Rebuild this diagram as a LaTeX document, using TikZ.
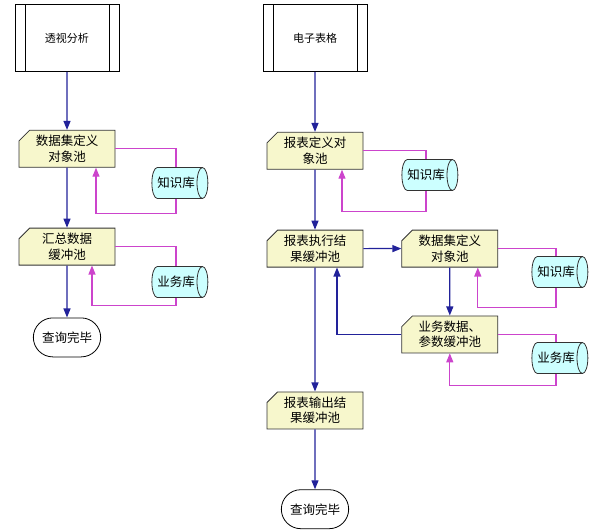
\documentclass[tikz,border=0pt]{standalone}
\usepackage{fontspec}
\setmainfont{Noto Sans CJK SC}
\usepackage{xcolor}
\usetikzlibrary{shapes,arrows.meta,positioning,calc}

\definecolor{poolfill}{HTML}{F7F7CC}
\definecolor{storefill}{HTML}{CCFFFF}
\definecolor{flowblue}{HTML}{22229A}
\definecolor{feedpink}{HTML}{CC44CC}

\begin{document}
\begin{tikzpicture}[x=1pt, y=-1pt, node distance=60pt,
    >={Triangle[width=7pt,length=9pt]},
    font=\fontsize{12.5pt}{15.5pt}\selectfont,
    source/.style={rectangle, draw, line width=0.8pt, minimum width=104pt, minimum height=67pt,
        font=\fontsize{11pt}{13pt}\selectfont,
        path picture={
            \draw[line width=0.8pt] ([xshift=10pt]path picture bounding box.north west) -- ([xshift=10pt]path picture bounding box.south west);
            \draw[line width=0.8pt] ([xshift=-10pt]path picture bounding box.north east) -- ([xshift=-10pt]path picture bounding box.south east);}},
    pool/.style={chamfered rectangle, chamfered rectangle corners=north west,
        chamfered rectangle xsep=7pt, draw=black!80, line width=0.8pt, fill=poolfill,
        minimum width=96pt, minimum height=37pt, align=center, inner sep=1pt},
    store/.style={cylinder, draw=black!80, line width=0.8pt, cylinder uses custom fill,
        cylinder body fill=storefill, cylinder end fill=storefill, shape aspect=0.8,
        minimum width=31pt, minimum height=56pt, inner sep=1pt},
    terminal/.style={rounded rectangle, draw, line width=0.8pt, minimum width=74pt, minimum height=39pt},
    flow/.style={draw=flowblue, line width=1.2pt, ->},
    feed/.style={draw=feedpink, line width=1.1pt},
    feedin/.style={feed, ->}]

    \useasboundingbox (0,0) rectangle (592,530);

    % pivot side
    \node[source] (pivot) at (67,38) {透视分析};
    \node[pool, below=58pt of pivot] (dsl) {数据集定义\\对象池};
    \node[pool, below=of dsl] (sumbuf) {汇总数据\\缓冲池};
    \node[terminal, below=52pt of sumbuf] (donel) {查询完毕};
    \node[store] (knowl) at (176,183) {知识库};
    \node[store] (bizl) at (176,282) {业务库};

    % sheet side
    \node[source] (sheet) at (315,38) {电子表格};
    \node[pool, below=of sheet] (rdef) {报表定义对\\象池};
    \node[pool, below=of rdef] (rexe) {报表执行结\\果缓冲池};
    \node[pool, right=38pt of rexe] (dsr) {数据集定义\\对象池};
    \node[pool, below=48pt of dsr] (param) {业务数据、\\参数缓冲池};
    \node[pool, below=124pt of rexe] (rout) {报表输出结\\果缓冲池};
    \node[terminal, below=of rout] (doner) {查询完毕};
    \node[store] (knowr) at (426,175) {知识库};
    \node[store] (knowr2) at (556,272) {知识库};
    \node[store] (bizr) at (556,358) {业务库};

    \draw[flow] (pivot) -- (dsl);
    \draw[flow] (dsl) -- (sumbuf);
    \draw[flow] (sumbuf) -- (donel);
    \draw[feed] (dsl.east) -| (knowl.north);
    \draw[feedin] (knowl.south) -- ++(0,15) -| ([xshift=29pt]dsl.south);
    \draw[feed] (sumbuf.east) -| (bizl.north);
    \draw[feedin] (bizl.south) -- ++(0,8) -| ([xshift=25pt]sumbuf.south);

    \draw[flow] (sheet) -- (rdef);
    \draw[flow] (rdef) -- (rexe);
    \draw[flow] (rexe) -- (dsr);
    \draw[flow] (dsr) -- (param);
    \draw[flow] (param.west) -| ([xshift=22pt]rexe.south);
    \draw[flow] (rexe) -- (rout);
    \draw[flow] (rout) -- (doner);
    \draw[feed] (rdef.east) -| (knowr.north);
    \draw[feedin] (knowr.south) -- ++(0,21) -| ([xshift=27pt]rdef.south);
    \draw[feed] (dsr.east) -| (knowr2.north);
    \draw[feedin] (knowr2.south) -- ++(0,20) -| ([xshift=28pt]dsr.south);
    \draw[feed] (param.east) -| (bizr.north);
    \draw[feedin] (bizr.south) -- ++(0,12) -| (param.south);
\end{tikzpicture}
\end{document}
